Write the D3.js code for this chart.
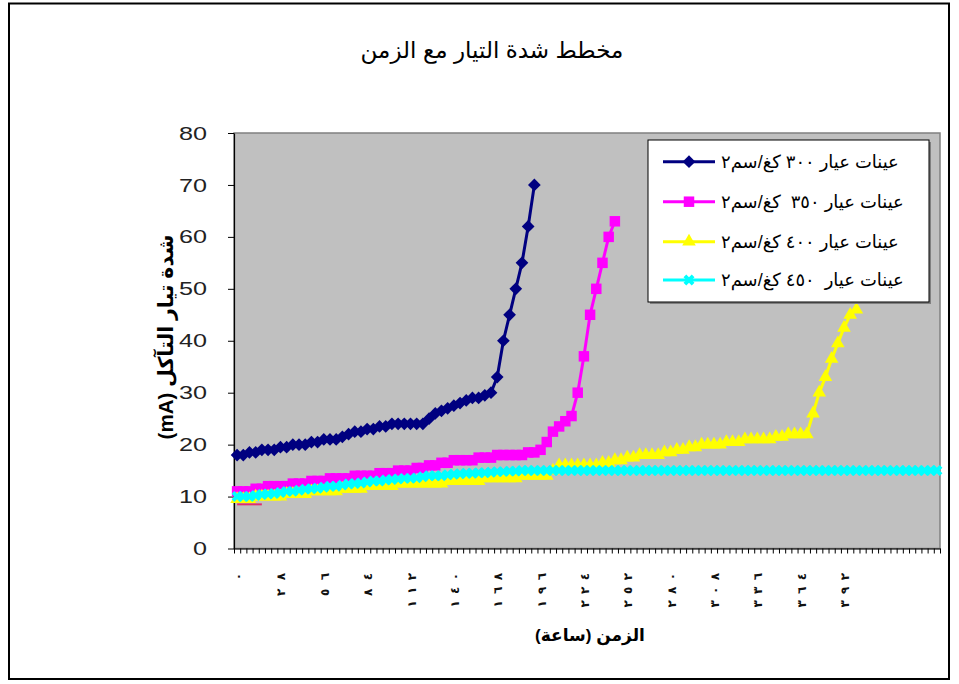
<!DOCTYPE html>
<html><head><meta charset="utf-8">
<script src="https://cdn.jsdelivr.net/npm/d3@7"></script>
<style>
body{margin:0;background:#fff}
svg{display:block}
text{font-family:"Liberation Sans","DejaVu Sans",sans-serif;white-space:pre}
</style>
</head><body>
<svg id="c" width="959" height="684"></svg>
<script>
// ---------------- data ----------------
const chartTitle = "مخطط شدة التيار مع الزمن";
const xTitle = "الزمن (ساعة)";
const yTitle = "شدة تيار التآكل (mA)";
const categoryCount = 114;           // categories (4-hour readings)
const labelEvery = 7;                // one label every 7 categories (28 h)
const xTickLabels = ["٠","٢٨","٥٦","٨٤","١١٢","١٤٠","١٦٨","١٩٦","٢٢٤","٢٥٢","٢٨٠","٣٠٨","٣٣٦","٣٦٤","٣٩٢"];
const yTicks = [0,10,20,30,40,50,60,70,80];
const seriesNames = ["عينات عيار ٣٠٠ كغ/سم٢","عينات عيار ٣٥٠  كغ/سم٢","عينات عيار ٤٠٠ كغ/سم٢","عينات عيار  ٤٥٠ كغ/سم٢"];

const s300 = [18,18,18.5,18.5,19,19,19,19.5,19.5,20,
              20,20,20.5,20.5,21,21,21,21.5,22,22.5,
              22.5,23,23,23.5,23.5,24,24,24,24,24,
              24,25,26,26.5,27,27.5,28,28.5,29,29,
              29.5,30,33,40,45,50,55,62,70];
const s350 = [11,11,11,11.5,11.5,12,12,12,12,12.5,
              12.5,12.5,13,13,13,13.5,13.5,13.5,13.5,14,
              14,14,14,14.5,14.5,14.5,15,15,15,15.5,
              15.5,16,16,16.5,16.5,17,17,17,17,17.5,
              17.5,17.5,18,18,18,18,18,18.5,18.5,19,
              20.5,22.5,23.5,24.5,25.5,30,37,45,50,55,
              60,63];
const s400 = [9.5,9.5,9.5,10,10,10,10,10,10.5,10.5,
              10.5,10.5,11,11,11,11,11,11.5,11.5,11.5,
              11.5,12,12,12,12,12,12.5,12.5,12.5,12.5,
              12.5,12.5,12.5,12.5,13,13,13,13,13,13,
              13.5,13.5,13.5,13.5,13.5,13.5,14,14,14,14,
              14,15,16,16,16,16,16,16,16,16.5,
              16.5,17,17,17.5,17.5,18,18,18,18,18.5,
              18.5,19,19,19.5,19.5,20,20,20,20,20.5,
              20.5,20.5,21,21,21,21,21,21.5,21.5,22,
              22,22,22,26,30,33,36.5,39.5,42.5,45,
              46];
const s450 = [10,10,10,10.2,10.4,10.5,10.6,10.8,11,11,
              11.2,11.4,11.5,11.6,11.8,12,12,12.2,12.4,12.5,
              12.6,12.8,13,13,13.2,13.3,13.4,13.5,13.5,13.6,
              13.8,14,14,14,14.2,14.3,14.4,14.5,14.5,14.6,
              14.6,14.7,14.8,14.8,14.9,14.9,15,15,15,15,
              15,15,15,15,15,15,15,15,15,15,
              15,15,15,15,15,15,15,15,15,15,
              15,15,15,15,15,15,15,15,15,15,
              15,15,15,15,15,15,15,15,15,15,
              15,15,15,15,15,15,15,15,15,15,
              15,15,15,15,15,15,15,15,15,15,
              15,15,15,15];
const stray = [8.5,8.5,8.5,8.5,8.5];

// ---------------- layout ----------------
const svg = d3.select("#c");
const P = {left:234, right:940, top:133, bottom:548.5};
const x = d3.scaleBand().domain(d3.range(categoryCount)).range([P.left, P.right]);
const xEdge = d3.scaleLinear().domain([0, categoryCount]).range([P.left, P.right]);
const y = d3.scaleLinear().domain([0, 80]).range([P.bottom, P.top]);
const bw = x.bandwidth();
const cx = i => x(i) + bw/2;

function fit(sel, target, base){
  sel.attr("font-size", base);
  const w = sel.node().getComputedTextLength();
  sel.attr("font-size", base*target/w);
  return sel;
}

// outer frame
svg.append("rect").attr("x",9).attr("y",3.5).attr("width",940).attr("height",675.5)
  .attr("fill","#fff").attr("stroke","#000").attr("stroke-width",2);

// title
const t = svg.append("text").attr("x",492).attr("y",50).attr("text-anchor","middle")
  .attr("dominant-baseline","central").text(chartTitle);
fit(t, 263, 18);

// plot area
svg.append("rect").attr("x",P.left).attr("y",P.top).attr("width",P.right-P.left).attr("height",P.bottom-P.top)
  .attr("fill","#c0c0c0").attr("stroke","#808080").attr("stroke-width",1.5);

// y axis
const ya = svg.append("g").attr("transform",`translate(${P.left},0)`)
  .call(d3.axisLeft(y).tickValues(yTicks).tickSize(6).tickSizeOuter(0).tickPadding(21));
ya.select(".domain").attr("stroke","#000").attr("stroke-width",1.2);
ya.selectAll(".tick line").attr("stroke","#000");
ya.selectAll(".tick text").attr("font-size",19).attr("fill","#222")
  .attr("textLength",d=>String(d).length*14).attr("lengthAdjust","spacingAndGlyphs")
  .style("font-family","'Liberation Sans',sans-serif");

// x axis (ticks at category edges)
const xa = svg.append("g").attr("transform",`translate(0,${P.bottom})`)
  .call(d3.axisBottom(xEdge).tickValues(d3.range(categoryCount+1)).tickSize(5).tickSizeOuter(0).tickFormat(""));
xa.select(".domain").attr("stroke","#000").attr("stroke-width",1.2);
xa.selectAll(".tick line").attr("stroke","#000");

// x labels (rotated, digits spread like the original)
svg.append("g").selectAll("text").data(xTickLabels).join("text")
  .attr("transform",(d,i)=>`translate(${cx(i*labelEvery)+1},573) rotate(-90)`)
  .attr("text-anchor","end").attr("dominant-baseline","central")
  .attr("font-size",12).attr("font-weight","bold").attr("fill","#111")
  .each(function(d){ if(d.length>1) d3.select(this).attr("textLength",d.length*11.5).attr("lengthAdjust","spacing"); })
  .text(d=>d);

// axis titles
const xt = svg.append("text").attr("x",590).attr("y",635).attr("text-anchor","middle")
  .attr("dominant-baseline","central").attr("font-weight","bold").text(xTitle);
fit(xt, 110, 14);
const yt = svg.append("text").attr("transform","translate(165,337) rotate(-90)")
  .attr("text-anchor","middle").attr("dominant-baseline","central").attr("font-weight","bold")
  .attr("direction","rtl").text(yTitle);
fit(yt, 205, 14);

// series
const colors = ["#000080","#ff00ff","#ffff00","#00ffff"];
const allSeries = [s300, s350, s400, s450];
const shapes = [
  {type:d3.symbolSquare, size:81, rot:45},
  {type:d3.symbolSquare, size:110, rot:0},
  {type:d3.symbolTriangle, size:80, rot:0},
  {type:d3.symbolCross, size:75, rot:45}
];
const line = d3.line().x((d,i)=>cx(i)).y(d=>y(d));
const g = svg.append("g");
g.append("path").datum(stray).attr("d",line).attr("fill","none").attr("stroke","#e0306e").attr("stroke-width",2);
allSeries.forEach((s,k)=>{
  const sg = g.append("g");
  sg.append("path").datum(s).attr("d",line).attr("fill","none")
    .attr("stroke",colors[k]).attr("stroke-width",3);
  sg.selectAll("path.m").data(s).join("path").attr("class","m")
    .attr("d",d3.symbol().type(shapes[k].type).size(shapes[k].size))
    .attr("transform",(d,i)=>`translate(${cx(i)},${y(d)}) rotate(${shapes[k].rot})`)
    .attr("fill",colors[k]);
});

// legend
const L = {x:648, y:140, w:281, h:162};
svg.append("rect").attr("x",L.x+2).attr("y",L.y+2).attr("width",L.w).attr("height",L.h).attr("fill","#808080");
svg.append("rect").attr("x",L.x).attr("y",L.y).attr("width",L.w).attr("height",L.h)
  .attr("fill","#fff").attr("stroke","#000").attr("stroke-width",1);
const rows = [161.7, 201.7, 241.7, 280];
const lg = svg.append("g");
let fs = null;
seriesNames.forEach((name,k)=>{
  const r = rows[k];
  lg.append("line").attr("x1",663).attr("x2",715).attr("y1",r).attr("y2",r)
    .attr("stroke",colors[k]).attr("stroke-width",3);
  lg.append("path").attr("d",d3.symbol().type(shapes[k].type).size(shapes[k].size))
    .attr("transform",`translate(689,${r}) rotate(${shapes[k].rot})`).attr("fill",colors[k]);
  const tx = lg.append("text").attr("x",721).attr("y",r).attr("dominant-baseline","central")
    .attr("fill","#000").text(name);
  if(k===0){ fit(tx,178,12); fs = tx.attr("font-size"); } else tx.attr("font-size",fs);
});
</script>
</body></html>
